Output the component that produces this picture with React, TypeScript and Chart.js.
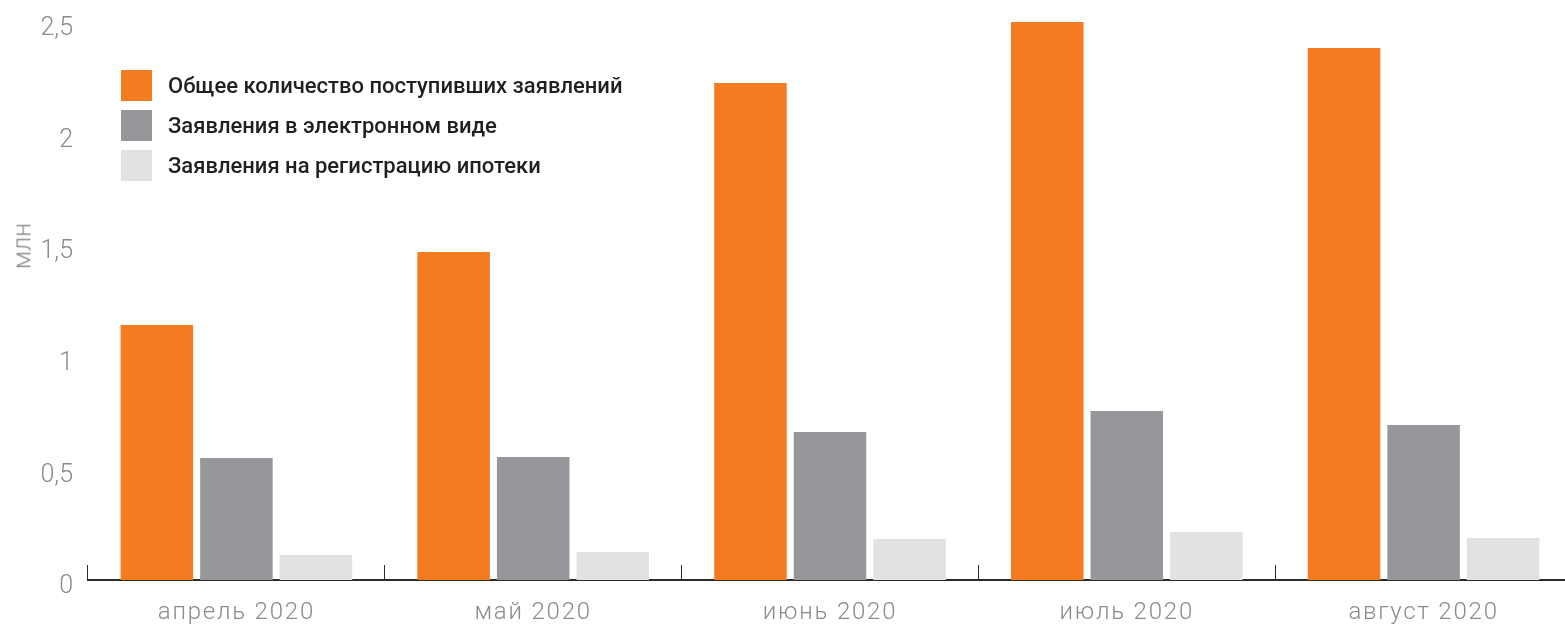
import React, { useEffect, useRef } from "react";
import { Chart, registerables } from "chart.js";

Chart.register(...registerables);

const categories = ["апрель 2020", "май 2020", "июнь 2020", "июль 2020", "август 2020"];
const totalApplications = [1.142, 1.47, 2.227, 2.5, 2.384];
const electronicApplications = [0.547, 0.551, 0.663, 0.757, 0.694];
const mortgageApplications = [0.112, 0.125, 0.184, 0.215, 0.188];
const seriesLabels = [
  "Общее количество поступивших заявлений",
  "Заявления в электронном виде",
  "Заявления на регистрацию ипотеки",
];
const seriesColors = ["#F47B20", "#96979A", "#E1E2E3"];
const yTicks = [0, 0.5, 1, 1.5, 2, 2.5];
const yTitle = "млн";

const TICK_COLOR = "#8b8b8e";

const xLabelSpacing = {
  id: "xLabelSpacing",
  afterDatasetsDraw(chart: any) {
    chart.ctx.letterSpacing = "1.8px";
  },
  afterDraw(chart: any) {
    chart.ctx.letterSpacing = "0px";
  },
};

export default function App() {
  const canvasRef = useRef<HTMLCanvasElement | null>(null);

  useEffect(() => {
    if (!canvasRef.current) return;
    const series = [totalApplications, electronicApplications, mortgageApplications];
    const chart = new Chart(canvasRef.current, {
      type: "bar",
      data: {
        labels: categories,
        datasets: series.map((d, i) => ({
          label: seriesLabels[i],
          data: d,
          backgroundColor: seriesColors[i],
          borderWidth: 0,
          categoryPercentage: 0.804,
          barPercentage: 0.912,
        })),
      },
      plugins: [xLabelSpacing],
      options: {
        responsive: false,
        animation: false,
        devicePixelRatio: 1,
        layout: { padding: { top: 22, right: 0, bottom: 0, left: 0 } },
        plugins: {
          legend: { display: false },
          tooltip: { enabled: false },
          title: { display: false },
        },
        scales: {
          x: {
            offset: true,
            grid: {
              display: true,
              offset: true,
              drawOnChartArea: false,
              drawTicks: true,
              tickLength: -15,
              color: "#2b2b2b",
              lineWidth: 1,
            },
            border: { display: true, color: "#2b2b2b", width: 2 },
            ticks: {
              z: 1,
              color: TICK_COLOR,
              padding: 34,
              maxRotation: 0,
              autoSkip: false,
              font: { family: "Roboto", size: 24, weight: "300" },
            },
            afterFit: (scale: any) => {
              scale.height = 44;
            },
          },
          y: {
            min: 0,
            max: 2.5,
            grid: { display: false, drawTicks: false },
            border: { display: false },
            afterBuildTicks: (scale: any) => {
              scale.ticks = yTicks.map((v) => ({ value: v }));
            },
            ticks: {
              color: TICK_COLOR,
              padding: 15,
              labelOffset: 7,
              font: { family: "Roboto", size: 25, weight: "300" },
              callback: (v: any) => String(v).replace(".", ","),
            },
            afterFit: (scale: any) => {
              scale.width = 88;
              scale.paddingTop = 0;
              scale.paddingBottom = 0;
            },
          },
        },
      },
    } as any);
    return () => chart.destroy();
  }, []);

  return (
    <div
      style={{
        position: "fixed",
        left: 0,
        top: 0,
        width: 1565,
        height: 624,
        overflow: "hidden",
        background: "#ffffff",
      }}
    >
      <canvas
        ref={canvasRef}
        width={1572}
        height={624}
        style={{ position: "absolute", left: 0, top: 0, display: "block" }}
      />
      <div
        style={{
          position: "absolute",
          left: 22,
          top: 246,
          transform: "translate(-50%, -50%) rotate(-90deg)",
          font: "300 25px Roboto",
          color: TICK_COLOR,
          whiteSpace: "nowrap",
          lineHeight: 1,
        }}
      >
        {yTitle}
      </div>
      <div style={{ position: "absolute", left: 121, top: 70 }}>
        {seriesLabels.map((label, i) => (
          <div
            key={label}
            style={{ display: "flex", alignItems: "center", height: 31, marginBottom: 9 }}
          >
            <span
              style={{ display: "inline-block", width: 31, height: 31, background: seriesColors[i] }}
            />
            <span
              style={{
                marginLeft: 16,
                font: "500 22px Roboto",
                color: "#231F20",
                whiteSpace: "nowrap",
              }}
            >
              {label}
            </span>
          </div>
        ))}
      </div>
    </div>
  );
}
